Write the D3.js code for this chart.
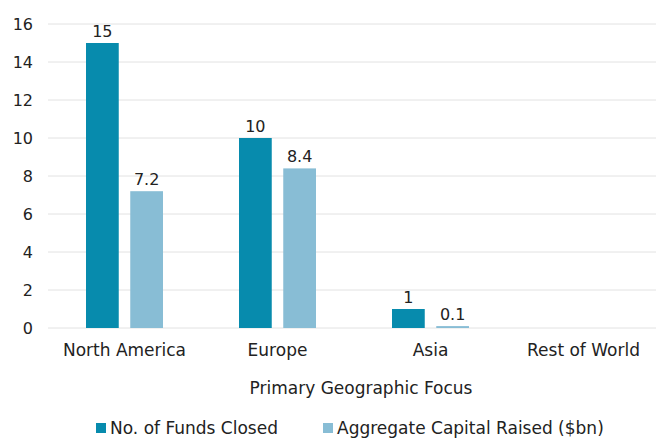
<!DOCTYPE html>
<html>
<head>
<meta charset="utf-8">
<script src="https://cdn.jsdelivr.net/npm/d3@7"></script>
<style>
  body { margin: 0; background: #fff; }
  svg text { font-family: "DejaVu Sans", sans-serif; fill: #222; }
</style>
</head>
<body>
<svg id="chart"></svg>
<script>
const regions = ["North America", "Europe", "Asia", "Rest of World"];
const fundsClosed = [15, 10, 1, null];
const capitalRaised = [7.2, 8.4, 0.1, null];
const seriesNames = ["No. of Funds Closed", "Aggregate Capital Raised ($bn)"];
const yTicks = [0, 2, 4, 6, 8, 10, 12, 14, 16];

const colors = ["#078bad", "#88bdd5"];
const width = 656, height = 439;

let svg = d3.select("#chart").attr("width", width).attr("height", height);

let x = d3.scaleBand().domain(regions).range([48, 660]);
let y = d3.scaleLinear().domain([0, 16]).range([328, 24]);

// gridlines
svg.selectAll("line.grid")
  .data(yTicks)
  .enter()
  .append("line")
  .attr("x1", 48)
  .attr("x2", 660)
  .attr("y1", d => y(d))
  .attr("y2", d => y(d))
  .attr("stroke", "#e2e2e2")
  .attr("stroke-width", 1);

// y labels
svg.selectAll("text.ytick")
  .data(yTicks)
  .enter()
  .append("text")
  .attr("x", 33)
  .attr("y", d => y(d))
  .attr("dy", "0.35em")
  .attr("text-anchor", "end")
  .attr("font-size", "16px")
  .text(d => d);

let rows = regions.map((r, i) => ({ region: r, values: [fundsClosed[i], capitalRaised[i]] }));

let group = svg.selectAll("g.cat")
  .data(rows)
  .enter()
  .append("g")
  .attr("transform", d => "translate(" + x(d.region) + ",0)");

// bars sit in the middle of the band, 34px wide with a 9px gap
let inner = d3.scaleBand().domain([0, 1]).range([38, 115]).paddingInner(0.26);

group.selectAll("rect")
  .data(d => d.values.map((v, i) => ({ v, i })).filter(d => d.v != null))
  .enter()
  .append("rect")
  .attr("x", d => inner(d.i))
  .attr("width", inner.bandwidth())
  .attr("y", d => y(d.v))
  .attr("height", d => y(0) - y(d.v))
  .attr("fill", d => colors[d.i]);

group.selectAll("text.val")
  .data(d => d.values.map((v, i) => ({ v, i })).filter(d => d.v != null))
  .enter()
  .append("text")
  .attr("x", d => inner(d.i) + inner.bandwidth() / 2)
  .attr("y", d => y(d.v) - 6)
  .attr("text-anchor", "middle")
  .attr("font-size", "16px")
  .text(d => d.v);

// category labels
svg.selectAll("text.cat")
  .data(regions)
  .enter()
  .append("text")
  .attr("x", d => x(d) + x.bandwidth() / 2)
  .attr("y", 350)
  .attr("dy", "0.35em")
  .attr("text-anchor", "middle")
  .attr("font-size", "17px")
  .text(d => d);

svg.append("text")
  .attr("x", 361)
  .attr("y", 388)
  .attr("dy", "0.35em")
  .attr("text-anchor", "middle")
  .attr("font-size", "17px")
  .text("Primary Geographic Focus");

// legend
let legendX = [96, 323];
let legend = svg.selectAll("g.legend")
  .data(seriesNames)
  .enter()
  .append("g")
  .attr("transform", (d, i) => "translate(" + legendX[i] + ",428)");

legend.append("rect")
  .attr("x", 0)
  .attr("y", -5)
  .attr("width", 10)
  .attr("height", 10)
  .attr("fill", (d, i) => colors[i]);

legend.append("text")
  .attr("x", 14)
  .attr("y", 0)
  .attr("dy", "0.35em")
  .attr("font-size", "17px")
  .text(d => d);
</script>
</body>
</html>
